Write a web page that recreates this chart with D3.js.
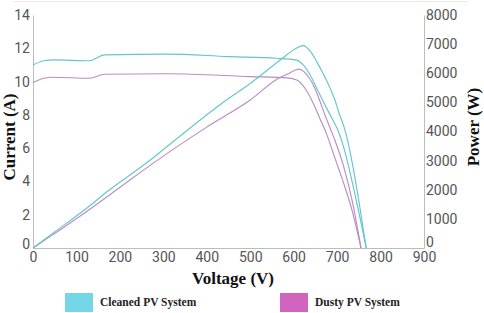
<!DOCTYPE html>
<html>
<head>
<meta charset="utf-8">
<script src="https://cdn.jsdelivr.net/npm/d3@7"></script>
<style>
  body { margin: 0; background: #fff; }
  #chart { width: 484px; height: 313px; }
  .tick text { font-family: Roboto, "Open Sans", sans-serif; font-size: 14px; fill: #555; }
  .axis-title { font-family: "Liberation Serif", "Times New Roman", serif; font-weight: bold; fill: #111; }
  .legend-text { font-family: "Liberation Serif", "Times New Roman", serif; font-weight: bold; font-size: 11.5px; fill: #222; }
</style>
</head>
<body>
<div id="chart"></div>
<script>
// tick labels
const xTicks = [0, 100, 200, 300, 400, 500, 600, 700, 800, 900];
const currentTicks = [0, 2, 4, 6, 8, 10, 12, 14];
const powerTicks = [0, 1000, 2000, 3000, 4000, 5000, 6000, 7000, 8000];

// cleaned system, I-V
const cleanedIVolt = [0, 25, 45, 130, 165, 310, 450, 560, 605, 622, 638, 653, 672, 688, 703, 720, 737, 752, 767];
const cleanedCurrent = [11.0, 11.25, 11.3, 11.25, 11.6, 11.65, 11.5, 11.4, 11.3, 11.0, 10.4, 9.6, 8.6, 7.8, 7.0, 5.6, 3.7, 1.9, 0];
// cleaned system, P-V
const cleanedPVolt = [0, 45, 130, 165, 270, 300, 446, 500, 572, 605, 622, 638, 653, 668, 684, 695, 703, 720, 737, 752, 767];
const cleanedPower = [0, 500, 1440, 1870, 3020, 3380, 5090, 5650, 6490, 6850, 6950, 6760, 6400, 5980, 5480, 5080, 4700, 3950, 2750, 1430, 0];

// dusty system, I-V
const dustyIVolt = [0, 25, 45, 130, 165, 310, 500, 585, 607, 626, 645, 660, 675, 695, 715, 735, 755];
const dustyCurrent = [9.95, 10.2, 10.26, 10.2, 10.44, 10.47, 10.3, 10.22, 10.1, 9.6, 8.7, 7.8, 6.9, 5.4, 3.9, 2.2, 0];
// dusty system, P-V
const dustyPVolt = [0, 45, 130, 165, 223, 285, 400, 500, 565, 590, 611, 634, 649, 661, 672, 684, 695, 715, 735, 755];
const dustyPower = [0, 450, 1320, 1700, 2335, 3000, 4150, 5082, 5830, 6000, 6140, 5880, 5480, 5020, 4570, 4110, 3700, 2800, 1600, 0];

const cleanedColor = "#62c7cd";
const dustyColor = "#bb8cc4";
const cleanedSwatch = "#74d6e6";
const dustySwatch = "#d064bf";

const width = 484, height = 313;
const margin = { top: 15, right: 60, bottom: 65, left: 33 };

const svg = d3.select("#chart").append("svg")
  .attr("width", width)
  .attr("height", height);

// faint frame line on top
svg.append("line")
  .attr("x1", 13).attr("x2", 468).attr("y1", 1.5).attr("y2", 1.5)
  .attr("stroke", "#ececec");

const x = d3.scaleLinear().domain([0, 900]).range([margin.left, width - margin.right]);
const yI = d3.scaleLinear().domain([0, 14]).range([height - margin.bottom, margin.top]);
const yP = d3.scaleLinear().domain([0, 8000]).range([height - margin.bottom, margin.top]);

const axisColor = "#bdbdbd";

const xAxisG = svg.append("g")
  .attr("transform", `translate(0,${height - margin.bottom})`)
  .call(d3.axisBottom(x).tickValues(xTicks).tickSize(0).tickPadding(4));
const yAxisG = svg.append("g")
  .attr("transform", `translate(${margin.left},0)`)
  .call(d3.axisLeft(yI).tickValues(currentTicks).tickSize(0).tickPadding(3));
const y2AxisG = svg.append("g")
  .attr("transform", `translate(${width - margin.right},0)`)
  .call(d3.axisRight(yP).tickValues(powerTicks).tickFormat(d3.format("d")).tickSize(0).tickPadding(2));

[xAxisG, yAxisG, y2AxisG].forEach(g => g.select(".domain").attr("stroke", axisColor));
// zero labels sit just above the corners like in the source chart
yAxisG.selectAll(".tick text").filter(d => d === 0).attr("dy", "0.05em");
y2AxisG.selectAll(".tick text").filter(d => d === 0).attr("dy", "-0.12em");

function drawLine(volts, vals, yScale, color) {
  const pts = volts.map((v, i) => [v, vals[i]]);
  const line = d3.line().x(d => x(d[0])).y(d => yScale(d[1])).curve(d3.curveMonotoneX);
  svg.append("path")
    .datum(pts)
    .attr("fill", "none")
    .attr("stroke", color)
    .attr("stroke-width", 1.15)
    .attr("d", line);
}

drawLine(dustyPVolt, dustyPower, yP, dustyColor);
drawLine(dustyIVolt, dustyCurrent, yI, dustyColor);
drawLine(cleanedPVolt, cleanedPower, yP, cleanedColor);
drawLine(cleanedIVolt, cleanedCurrent, yI, cleanedColor);

// axis titles
svg.append("text")
  .attr("class", "axis-title")
  .attr("transform", `translate(15,137) rotate(-90)`)
  .attr("text-anchor", "middle")
  .attr("font-size", 17)
  .text("Current (A)");

svg.append("text")
  .attr("class", "axis-title")
  .attr("transform", `translate(479,127) rotate(-90)`)
  .attr("text-anchor", "middle")
  .attr("font-size", 17)
  .text("Power (W)");

svg.append("text")
  .attr("class", "axis-title")
  .attr("x", 233).attr("y", 284)
  .attr("text-anchor", "middle")
  .attr("font-size", 17)
  .text("Voltage (V)");

// legend
const legendItems = [
  { name: "Cleaned PV System", color: cleanedSwatch, x: 65 },
  { name: "Dusty PV System", color: dustySwatch, x: 280 }
];
const lg = svg.append("g").selectAll("g").data(legendItems).join("g")
  .attr("transform", d => `translate(${d.x},293)`);
lg.append("rect")
  .attr("width", 28).attr("height", 19)
  .attr("fill", d => d.color);
lg.append("text")
  .attr("class", "legend-text")
  .attr("x", 35).attr("y", 13)
  .text(d => d.name);
</script>
</body>
</html>
